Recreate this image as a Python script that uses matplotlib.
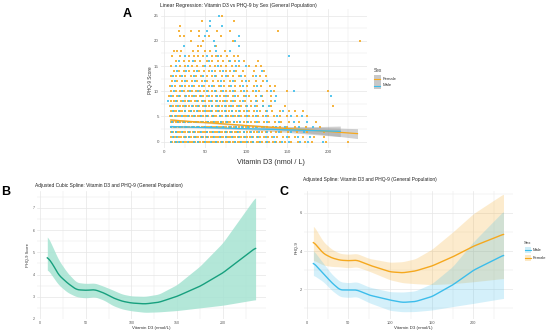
import numpy as np
from matplotlib import pyplot as plt
from matplotlib.patches import Rectangle
from matplotlib.lines import Line2D

plt.rcParams['font.family'] = ['Liberation Sans', 'DejaVu Sans']

orange = '#F5A81E'
blue = '#3CBDEB'
teal = '#17A07E'
teal_fill = '#A6E3D2'
grid_c = '#E6E6E6'
tick_c = '#555555'

# ---------------- panel A data: PHQ-9 level -> vitamin D3 values ----------------
female_rows = {
    0: "8 10 13 16 19 21 24 27 30 33 35 38 41 44 47 49 52 55 58 61 63 66 69 72 75 78 81 84 87 90 93 96 99 102 106 109 113 116 120 124 128 133 137 142 148 155 163 172 181 198 225",
    1: "9 12 15 18 21 24 27 30 33 36 39 42 45 48 51 54 57 60 63 66 69 72 75 78 81 84 87 90 94 98 101 105 109 113 117 122 127 132 138 145 152 160 170 183 195",
    2: "8 11 14 17 20 23 26 29 32 35 38 41 44 47 50 53 56 59 62 65 68 71 74 77 80 83 86 89 93 97 101 105 110 114 119 124 130 136 143 151 162 175 195",
    3: "9 12 15 18 22 25 28 31 34 37 40 43 46 49 52 55 58 61 64 67 70 73 76 79 82 85 88 92 96 100 104 109 114 120 126 133 141 150 160 173 190",
    4: "8 11 14 17 20 23 26 29 33 36 39 42 45 48 51 54 57 60 63 66 69 72 75 78 81 85 89 93 97 101 106 111 116 122 128 135 143 152 165 185",
    5: "7 10 13 17 20 24 27 31 34 38 41 44 48 51 54 58 61 64 68 71 75 78 82 86 90 94 99 104 109 115 121 127 134 142 150 162 175",
    6: "8 12 15 19 22 26 30 33 37 41 44 48 52 55 59 63 67 71 75 79 83 88 93 98 104 110 117 124 132 141 152 160 169",
    7: "7 11 15 19 23 27 31 35 39 43 47 51 55 59 63 67 71 75 79 84 89 94 100 106 113 121 130 148 206",
    8: "8 12 16 21 25 29 33 38 42 46 50 55 59 63 68 72 77 82 87 93 99 106 113 121 130",
    9: "6 11 16 20 25 30 34 39 44 48 53 58 63 68 73 78 84 90 97 104 112 120 130",
    10: "9 14 19 24 29 34 39 44 49 54 59 64 70 75 81 87 94 101 108 116 125 134 150 200",
    11: "7 13 19 25 31 37 43 49 55 61 67 73 79 86 93 101 110 118 129 135",
    12: "10 16 22 28 34 40 46 53 60 66 73 80 87 95 104 112 121",
    13: "8 14 20 26 33 39 45 52 58 64 71 78 84 91 99 108 117 124",
    14: "12 18 24 30 36 43 49 55 62 68 75 81 88 96 110 122",
    15: "9 20 26 34 40 47 56 62 69 76 83 92 104 112 118",
    16: "14 24 30 38 44 52 59 66 72 79 86 97 115",
    17: "10 20 30 36 42 48 58 63 70 77 85 90",
    18: "12 16 21 35 41 50 56 74",
    19: "41 45 64",
    20: "33 47 84 239",
    21: "19 24 43 55 70",
    22: "18 33 43 65 80 139",
    23: "20",
    24: "46 85",
    25: "71",
}
male_rows = {
    0: "9 14 18 23 29 36 42 50 57 64 71 79 86 94 101 108 117 126 135 144 152 166 176 194",
    1: "11 16 25 31 38 46 53 61 68 76 83 91 99 107 115 124 134 150 164 178",
    2: "10 15 22 30 37 45 52 60 67 75 82 90 98 106 116 126 140 155 171",
    3: "8 13 20 27 35 42 50 57 65 72 80 88 95 103 112 122 136 148 165 182",
    4: "10 17 24 31 39 46 54 61 69 77 85 93 102 113 125 140 158 175",
    5: "9 15 22 29 37 45 52 60 68 76 84 92 101 112 124 138 155 168",
    6: "11 18 25 33 40 50 57 66 74 83 92 101 113 126 145",
    7: "9 17 25 34 42 50 58 66 74 82 91 101 111 121 128",
    8: "5 14 23 31 40 48 57 65 74 84 96 112 135",
    9: "9 18 27 36 45 55 65 75 87 100 118 136 204",
    10: "12 22 32 42 52 62 72 84 98 112 130 158",
    11: "10 22 34 46 58 70 82 96 114",
    12: "13 25 38 50 70 84 100 126",
    13: "11 22 36 48 62 75 94 112",
    14: "16 27 40 58 72 85 120",
    15: "15 29 50 66 88 100",
    16: "18 35 55 81 91",
    17: "25 52 66 153",
    18: "64 80",
    19: "24 62 92",
    20: "61 87",
    21: "50 92",
    22: "53",
    23: "56 71",
    24: "56",
    25: "67",
}

# linear fits (end points) and confidence half-widths
fit_x_f = [8, 236]
fit_y_f = [4.3, 1.6]
fit_x_m = [8, 215]
fit_y_m = [3.0, 2.05]
band_x_f = [8, 30, 55, 100, 150, 200, 236]
band_hw_f = [0.28, 0.16, 0.12, 0.18, 0.42, 0.72, 0.98]
band_x_m = [8, 30, 55, 100, 150, 215]
band_hw_m = [0.26, 0.15, 0.12, 0.22, 0.5, 1.05]

# ---------------- panel B data ----------------
xb = [8, 15, 20, 30, 40, 50, 60, 70, 80, 90, 100, 115, 130, 150, 175, 200, 236]
yb = [4.8, 4.4, 4.0, 3.62, 3.32, 3.29, 3.32, 3.17, 2.95, 2.8, 2.72, 2.68, 2.75, 3.02, 3.47, 4.07, 5.2]
yb_up = [5.76, 5.15, 4.68, 4.08, 3.65, 3.6, 3.62, 3.47, 3.3, 3.12, 3.04, 3.02, 3.12, 3.55, 4.38, 5.43, 7.5]
yb_lo = [4.25, 3.85, 3.55, 3.2, 3.0, 2.95, 3.0, 2.85, 2.6, 2.45, 2.37, 2.3, 2.32, 2.38, 2.5, 2.62, 2.87]

# ---------------- panel C data ----------------
xc = [8, 20, 30, 40, 50, 60, 75, 100, 115, 130, 150, 175, 200, 236]
f_line = [4.49, 3.88, 3.65, 3.53, 3.5, 3.53, 3.27, 2.92, 2.87, 2.96, 3.22, 3.7, 4.26, 4.89]
f_up = [5.36, 4.49, 4.1, 3.88, 3.84, 3.88, 3.62, 3.42, 3.45, 3.6, 4.1, 5.0, 5.97, 7.0]
f_lo = [3.53, 3.27, 3.2, 3.18, 3.13, 3.18, 2.95, 2.5, 2.35, 2.3, 2.25, 2.3, 2.4, 2.57]
m_line = [3.39, 2.83, 2.35, 1.97, 1.97, 1.97, 1.7, 1.44, 1.32, 1.36, 1.62, 2.23, 3.0, 3.79]
m_up = [4.05, 3.36, 2.8, 2.4, 2.35, 2.4, 2.12, 1.88, 1.86, 1.92, 2.3, 3.2, 4.5, 6.1]
m_lo = [2.75, 2.4, 1.95, 1.62, 1.58, 1.62, 1.3, 0.9, 0.83, 0.84, 0.92, 1.1, 1.27, 1.53]

W, H = 550, 333
fig = plt.figure(figsize=(W / 100, H / 100), dpi=100)


def px_axes(l, t, r, b):
    return fig.add_axes([l / W, 1 - b / H, (r - l) / W, (b - t) / H])


def gg_style(ax, xmaj, xmin, ymaj, ymin, fs=3.2):
    ax.set_xticks(xmaj)
    ax.set_xticks(xmin, minor=True)
    ax.set_yticks(ymaj)
    ax.set_yticks(ymin, minor=True)
    ax.grid(True, which='major', color=grid_c, lw=0.5)
    ax.grid(True, which='minor', color=grid_c, lw=0.3)
    ax.set_axisbelow(True)
    for s in ax.spines.values():
        s.set_visible(False)
    ax.tick_params(which='both', length=0, labelsize=fs, labelcolor=tick_c, pad=1.5)


def smooth(x, y, n=300):
    xs = np.linspace(x[0], x[-1], n)
    ys = np.interp(xs, x, y)
    k = 9
    ker = np.ones(k) / k
    pad = np.concatenate([np.full(k // 2, ys[0]), ys, np.full(k // 2, ys[-1])])
    return xs, np.convolve(pad, ker, mode='valid')


# ---------------- panel A ----------------
axA = px_axes(161, 9, 367, 148)
for lvl, s in female_rows.items():
    xs = [float(v) for v in s.split()]
    axA.plot(xs, [lvl] * len(xs), 's', color=orange, ms=1.8, mew=0, alpha=0.85)
for lvl, s in male_rows.items():
    xs = [float(v) for v in s.split()]
    axA.plot(xs, [lvl] * len(xs), 's', color=blue, ms=1.8, mew=0, alpha=0.85)

for fx, fy, bx, bh, c in [(fit_x_f, fit_y_f, band_x_f, band_hw_f, orange),
                          (fit_x_m, fit_y_m, band_x_m, band_hw_m, blue)]:
    xx = np.linspace(fx[0], fx[-1], 100)
    yy = np.interp(xx, fx, fy)
    hw = np.interp(xx, bx, bh)
    axA.fill_between(xx, yy - hw, yy + hw, color='#9A9A9A', alpha=0.45, lw=0)
    axA.plot(xx, yy, color=c, lw=0.9)

axA.set_xlim(-3.7, 247.6)
axA.set_ylim(-1.25, 26.3)
gg_style(axA, [0, 50, 100, 150, 200], [25, 75, 125, 175, 225],
         [0, 5, 10, 15, 20, 25], [2.5, 7.5, 12.5, 17.5, 22.5])

# ---------------- panel B ----------------
axB = px_axes(36.9, 191, 266, 319)
sx, su = smooth(xb, yb_up)
_, sl = smooth(xb, yb_lo)
_, sm = smooth(xb, yb)
axB.fill_between(sx, sl, su, color=teal_fill, alpha=0.85, lw=0)
axB.plot(sx, sm, color=teal, lw=1.0)
axB.set_xlim(-3.4, 247.4)
axB.set_ylim(2.0, 7.76)
gg_style(axB, [0, 50, 100, 150, 200], [25, 75, 125, 175, 225],
         [2, 3, 4, 5, 6, 7], [2.5, 3.5, 4.5, 5.5, 6.5, 7.5], fs=2.6)

# ---------------- panel C ----------------
axC = px_axes(303.9, 191, 513, 319)
for yl, yu, ym, c in [(f_lo, f_up, f_line, orange), (m_lo, m_up, m_line, blue)]:
    sx, su = smooth(xc, yu)
    _, sl = smooth(xc, yl)
    axC.fill_between(sx, sl, su, color=c, alpha=0.22, lw=0)
for ym, c in [(f_line, orange), (m_line, blue)]:
    sx, sm = smooth(xc, ym)
    axC.plot(sx, sm, color=c, lw=1.0)
axC.set_xlim(-3.4, 247.4)
axC.set_ylim(0.45, 7.15)
gg_style(axC, [0, 50, 100, 150, 200], [25, 75, 125, 175, 225],
         [2, 4, 6], [1, 3, 5, 7], fs=2.8)

# ---------------- overlay texts / legends ----------------
ov = fig.add_axes([0, 0, 1, 1])
ov.set_xlim(0, W)
ov.set_ylim(H, 0)
ov.axis('off')

ov.text(160, 5, 'Linear Regression: Vitamin D3 vs PHQ-9 by Sex (General Population)',
        fontsize=3.6, ha='left', va='center', color='#222222')
ov.text(127, 14, 'A', fontsize=9, fontweight='bold', ha='center', va='center')
ov.text(150.5, 80, 'PHQ-9 Score', fontsize=3.3, rotation=90, ha='center', va='center', color='#333333')
ov.text(271, 162.5, 'Vitamin D3 (nmol / L)', fontsize=5.2, ha='center', va='center', color='#333333')

# legend A
ov.text(374, 71, 'Sex', fontsize=3.4, ha='left', va='center', color='#333333')
for yk, c, lab in [(78.5, orange, 'Female'), (85.5, blue, 'Male')]:
    ov.add_patch(Rectangle((374, yk - 3.2), 6.5, 6.4, fc='#C8C8C8', ec='none'))
    ov.add_line(Line2D([374.3, 380.2], [yk, yk], color=c, lw=0.8))
    ov.text(383, yk, lab, fontsize=3.1, ha='left', va='center', color='#333333')

ov.text(35, 185, 'Adjusted Cubic Spline: Vitamin D3 and PHQ-9 (General Population)',
        fontsize=3.5, ha='left', va='center', color='#222222')
ov.text(6, 192, 'B', fontsize=9, fontweight='bold', ha='center', va='center')
ov.text(28.5, 255, 'PHQ-9 Score', fontsize=2.9, rotation=90, ha='center', va='center', color='#333333')
ov.text(151.7, 328, 'Vitamin D3 (nmol/L)', fontsize=3.2, ha='center', va='center', color='#333333')

ov.text(303, 179.5, 'Adjusted Spline: Vitamin D3 and PHQ-9 (General Population)',
        fontsize=3.5, ha='left', va='center', color='#222222')
ov.text(279, 192, 'C', fontsize=9, fontweight='bold', ha='left', va='center')
ov.text(296.5, 248, 'PHQ-9', fontsize=3.0, rotation=90, ha='center', va='center', color='#333333')
ov.text(413, 327.7, 'Vitamin D3 (nmol/L)', fontsize=3.2, ha='center', va='center', color='#333333')

# legend C
ov.text(524, 243.5, 'Sex', fontsize=3.2, ha='left', va='center', color='#333333')
for yk, c, lab in [(250, blue, 'Male'), (258, orange, 'Female')]:
    ov.add_patch(Rectangle((524.5, yk - 3), 6.5, 6, fc=c, alpha=0.25, ec='none'))
    ov.add_line(Line2D([524.8, 530.7], [yk, yk], color=c, lw=0.8))
    ov.text(533, yk, lab, fontsize=3.0, ha='left', va='center', color='#333333')

fig.savefig('out.png', dpi=100)
